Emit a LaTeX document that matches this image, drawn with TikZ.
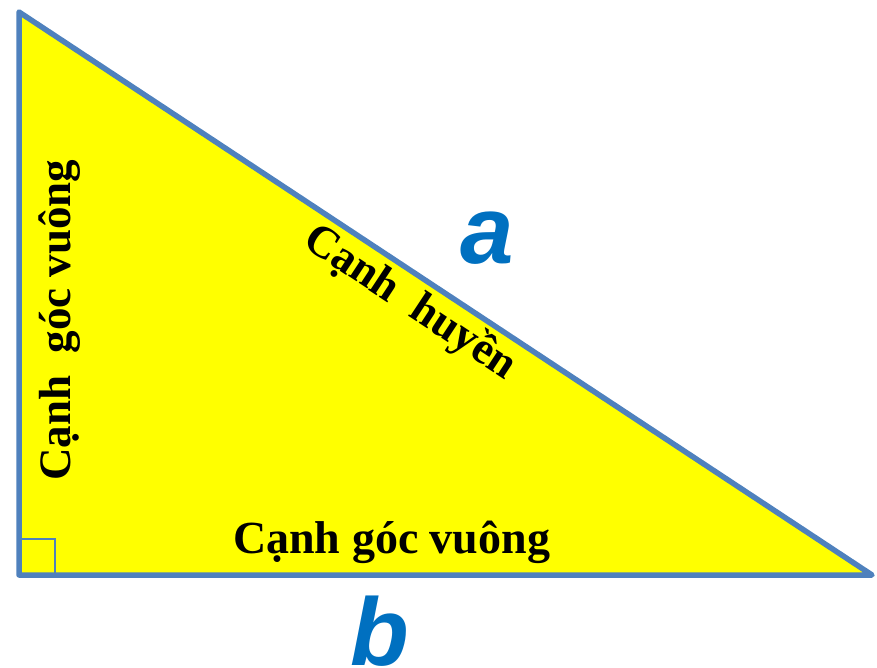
\documentclass[tikz,border=0pt]{standalone}
\usepackage{fontspec}
\setmainfont{Liberation Serif}
\newfontfamily\letterfont{Liberation Sans}
\definecolor{edgeblue}{HTML}{4F81BD}
\definecolor{letterblue}{HTML}{0070C0}
\definecolor{fillyellow}{HTML}{FFFF00}
\begin{document}
\begin{tikzpicture}[x=1pt,y=-1pt,
  sidelabel/.style={font=\fontsize{45}{45}\selectfont\bfseries, inner sep=0pt, text=black},
  letter/.style={font=\fontsize{96}{96}\selectfont\letterfont\bfseries\itshape, inner sep=0pt, text=letterblue},
  edge/.style={draw=edgeblue, line width=5.5pt, line join=round}]
\useasboundingbox (0,0) rectangle (877,667);
\coordinate (A) at (19,12);
\coordinate (C) at (19,575);
\coordinate (B) at (872,575);
\fill[fillyellow] (A) -- (C) -- (B) -- cycle;
\draw[draw=edgeblue, line width=2.5pt] (19,539) -- (55,539) -- (55,575);
\draw[edge] (A) -- (C) -- (B) -- cycle;
\node[sidelabel, font=\fontsize{46}{46}\selectfont\bfseries, anchor=base west] (bottomlbl) at (233,553) {Cạnh góc vuông};
\node[sidelabel, anchor=base west, rotate=90] (leftlbl) at (70,481) {Cạnh\ \ góc vuông};
\node[sidelabel, anchor=base west, rotate=-33.42] (hyplbl) at (301,245) {Cạnh\ \ huyền};
\node[letter, anchor=base] (alabel) at (487,263) {a};
\node[letter, anchor=base] (blabel) at (380,665) {b};
\end{tikzpicture}
\end{document}
